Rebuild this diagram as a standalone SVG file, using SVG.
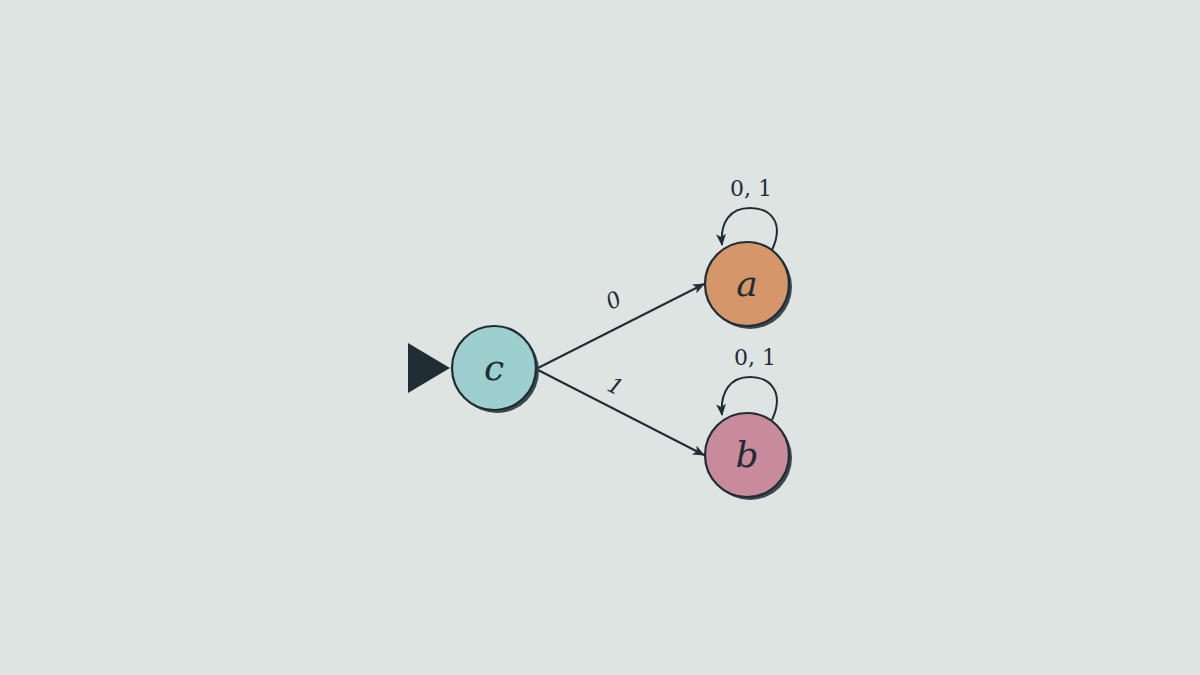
<svg xmlns="http://www.w3.org/2000/svg" width="1200" height="675" viewBox="0 0 1200 675">
<style>
.st{stroke:#1f2d36;stroke-width:2.2}
.e{fill:none;stroke:#1f2d36;stroke-width:2}
.sh{fill:#1f2d36;opacity:0.85}
.lbl{font-family:"DejaVu Serif","Liberation Serif",serif;font-style:italic;font-size:36px;fill:#1f2d36;text-anchor:middle}
.el{font-family:"DejaVu Serif","Liberation Serif",serif;font-size:22px;fill:#1f2d36;text-anchor:middle}
.eli{font-family:"DejaVu Serif","Liberation Serif",serif;font-style:italic;font-size:22px;fill:#1f2d36;text-anchor:middle}
</style>
<defs>
<marker id="ar" viewBox="0 0 12 10" refX="11" refY="5" markerWidth="12" markerHeight="10" markerUnits="userSpaceOnUse" orient="auto">
<path d="M0,0 L12,5 L0,10 L3,5 Z" fill="#1f2d36"/>
</marker>
</defs>
<rect width="1200" height="675" fill="#dde4e2"/>
<g id="edges">
<line class="e" x1="538" y1="368" x2="704" y2="284" marker-end="url(#ar)"/>
<line class="e" x1="538" y1="370" x2="704" y2="455" marker-end="url(#ar)"/>
<path class="e" d="M772,250 C785,222 770,208 750,208 C730,208 720,222 722,245" marker-end="url(#ar)"/>
<path class="e" d="M772,420 C785,392 770,377 750,377 C730,377 720,392 722,415" marker-end="url(#ar)"/>
<text class="eli" transform="translate(617,307) rotate(-27)">0</text>
<text class="eli" transform="translate(612,393) rotate(27)">1</text>
<text class="el" x="751" y="196">0, 1</text>
<text class="el" x="755" y="365">0, 1</text>
</g>
<g id="start"><polygon points="408,343 408,393 450,368" fill="#1f2d36"/></g>
<g id="node-c"><circle cx="497" cy="371" r="42" class="sh"/><circle cx="494" cy="368" r="42" fill="#9ccfcd" class="st"/><text class="lbl" x="494" y="380">c</text></g>
<g id="node-a"><circle cx="750" cy="287" r="42" class="sh"/><circle cx="747" cy="284" r="42" fill="#d5966a" class="st"/><text class="lbl" x="747" y="296">a</text></g>
<g id="node-b"><circle cx="750" cy="458" r="42" class="sh"/><circle cx="747" cy="455" r="42" fill="#c98b9c" class="st"/><text class="lbl" x="747" y="467">b</text></g>
</svg>
